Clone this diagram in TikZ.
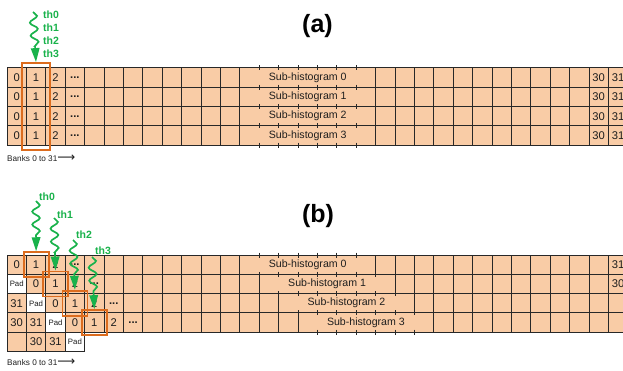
\documentclass[tikz,border=0pt]{standalone}
\usepackage{fontspec}
\setmainfont{Liberation Sans}
\newfontfamily\arrowfont{DejaVu Sans}
\usetikzlibrary{arrows.meta,decorations.pathmorphing}
\definecolor{peach}{RGB}{249,204,166}
\definecolor{gridc}{RGB}{40,40,40}
\definecolor{hlorange}{RGB}{220,108,30}
\definecolor{thgreen}{RGB}{25,178,75}
\definecolor{txt}{RGB}{30,30,30}
\newcommand{\celldots}{\textbf{...}}
\newcommand{\bankline}{Banks 0 to 31{\arrowfont\fontsize{12.5}{13}\selectfont ⟶}}
\begin{document}
\begin{tikzpicture}[x=1pt,y=-1pt,
  cell/.style={draw=gridc, fill=peach, line width=1pt, minimum width=19.4pt,
    minimum height=19.3pt, inner sep=0pt, outer sep=0pt},
  padcell/.style={cell, fill=white},
  lab/.style={inner sep=0pt, text=txt, font=\fontsize{11.2}{13}\selectfont},
  padlab/.style={inner sep=0pt, text=txt, font=\fontsize{7.8}{9}\selectfont},
  merged/.style={cell, minimum width=135.8pt, text=txt, font=\fontsize{10.6}{12}\selectfont},
  tick/.style={draw=gridc, line width=1pt},
  hl/.style={draw=hlorange, line width=1.8pt, inner sep=0pt, fill=none},
  thread/.style={draw=thgreen, line width=1.7pt, decorate,
    decoration={snake, amplitude=3.8pt, segment length=13pt, post length=14pt},
    -{Triangle[length=14pt,width=8.5pt]}},
  thlab/.style={text=thgreen, font=\bfseries\fontsize{10.5}{12}\selectfont, inner sep=0pt, anchor=west},
  banks/.style={text=txt, font=\fontsize{8.2}{10}\selectfont, inner sep=0pt, anchor=west},
  title/.style={font=\bfseries\fontsize{25}{28}\selectfont, text=black, inner sep=0pt, anchor=base},
]
\def\cw{19.4}
\def\ch{19.3}
\useasboundingbox (0,0) rectangle (623,371);
\clip (0,0) rectangle (623,371);

% ---------------- (a) one sub-histogram per row, no padding ----------------
\node[title] (ta) at (317.5,32.7) {(a)};
\foreach \r in {0,...,3}{
  \foreach \c in {0,...,31}{
    \node[cell] (a\r-\c) at ({7+\cw*(\c+0.5)},{68+\ch*(\r+0.5)}) {};
  }
  \node[merged] (asub\r) at ({7+\cw*12+67.9},{68+\ch*(\r+0.5)}) {Sub-histogram \r};
  \foreach \k in {1,...,6}{
    \draw[tick] ([xshift=\k*\cw pt]asub\r.north west) ++(0,-2.5) -- ++(0,5);
    \draw[tick] ([xshift=\k*\cw pt]asub\r.south west) ++(0,-2.5) -- ++(0,5);
  }
  \foreach \c/\t in {0/0, 1/1, 2/2, 3/\celldots, 30/30, 31/31}{
    \node[lab] (la\r-\c) at (a\r-\c) {\t};
  }
}
\node[banks] (banksa) at (7,158) {\bankline};
\node[hl, minimum width=28pt, minimum height=87pt] (boxa) at (36,106.5) {};
\node[thlab] (tha0) at (43,15) {th0};
\node[thlab] (tha1) at (43,28) {th1};
\node[thlab] (tha2) at (43,41) {th2};
\node[thlab] (tha3) at (43,54) {th3};
\coordinate (sa) at (33,12);
\draw[thread] (sa) -- (boxa.north);

% ---------------- (b) padded rows, each shifted by one bank ----------------
\node[title] (tb) at (318,222.7) {(b)};
\foreach \r in {0,...,3}{
  \foreach \c in {0,...,31}{
    \node[cell] (b\r-\c) at ({7+\cw*(\c+0.5)},{255+\ch*(\r+0.5)}) {};
  }
}
\foreach \c in {0,...,3}{
  \node[cell] (b4-\c) at ({7+\cw*(\c+0.5)},{255+\ch*4.5}) {};
}
% padding cells
\foreach \r/\c in {1/0, 2/1, 3/2, 4/3}{
  \node[padcell] (p\r-\c) at (b\r-\c) {};
  \node[padlab] (lp\r-\c) at (b\r-\c) {Pad};
}
% merged sub-histogram spans
\foreach \r in {0,...,3}{
  \node[merged] (bsub\r) at ({7+\cw*(12+\r)+67.9},{255+\ch*(\r+0.5)}) {Sub-histogram \r};
  \foreach \k in {1,...,6}{
    \draw[tick] ([xshift=\k*\cw pt]bsub\r.north west) ++(0,-2.5) -- ++(0,5);
    \draw[tick] ([xshift=\k*\cw pt]bsub\r.south west) ++(0,-2.5) -- ++(0,5);
  }
}
\foreach \r/\c/\t in {0/0/0, 0/1/1, 0/2/2, 0/3/\celldots, 0/31/31,
    1/1/0, 1/2/1, 1/3/2, 1/4/\celldots, 1/31/30,
    2/0/31, 2/2/0, 2/3/1, 2/4/2, 2/5/\celldots,
    3/0/30, 3/1/31, 3/3/0, 3/4/1, 3/5/2, 3/6/\celldots,
    4/1/30, 4/2/31}{
  \node[lab] (lb\r-\c) at (b\r-\c) {\t};
}
\node[banks] (banksb) at (7,362.7) {\bankline};
% highlighted banks accessed by the four threads
\foreach \i in {0,...,3}{
  \pgfmathtruncatemacro{\cc}{\i+1}
  \node[hl, minimum width=25pt, minimum height=25pt] (boxb\i) at (b\i-\cc) {};
}
\node[thlab] (thb0) at (39,197) {th0};
\node[thlab] (thb1) at (57,215) {th1};
\node[thlab] (thb2) at (76,235) {th2};
\node[thlab] (thb3) at (95,251) {th3};
\coordinate (sb0) at (36,201);
\coordinate (sb1) at (54,218);
\coordinate (sb2) at (73,240);
\coordinate (sb3) at (92,257);
\foreach \i in {0,...,3}{
  \draw[thread] (sb\i) -- (boxb\i.north);
}
\end{tikzpicture}
\end{document}
